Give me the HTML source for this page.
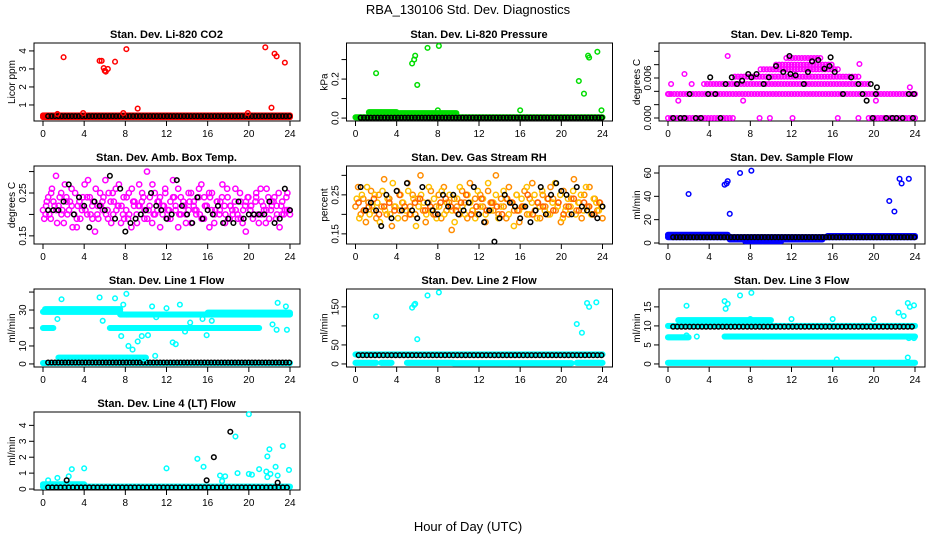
<!DOCTYPE html>
<html><head><meta charset="utf-8"><style>
html,body{margin:0;padding:0;background:#fff;}
svg{display:block;font-family:"Liberation Sans",sans-serif;}
</style></head><body>
<svg id="chart" width="936" height="540" viewBox="0 0 936 540" xmlns="http://www.w3.org/2000/svg">
<text x="468" y="14" text-anchor="middle" font-size="13">RBA_130106  Std. Dev. Diagnostics</text>
<text x="468" y="531" text-anchor="middle" font-size="13">Hour of Day (UTC)</text>
</svg>
<script>
const xTicks=[0,4,8,12,16,20,24];
const co2Levels=[[0,24,0.33],[0,24,0.42]];
const co2Black=[[0.5,24,0.38]];
const co2Out=[[2,3.65],[5.5,3.45],[5.7,3.45],[5.9,3.05],[6.0,2.9],[6.1,2.85],[6.3,3.0],[7,3.4],[8.1,4.1],[9.2,0.8],[21.6,4.2],[22.2,0.85],[22.5,3.85],[22.7,3.7],[23.5,3.35],[19.9,0.55],[1.4,0.5],[3.9,0.55],[7.8,0.55]];
const presLevels=[[0,10,0.004],[10,24,0.004],[1.3,4,0.03],[4.3,9.8,0.025]];
const presBlack=[[0.5,24,0.002]];
const presOut=[[2,0.23],[5.5,0.28],[5.7,0.3],[5.8,0.32],[6,0.17],[7,0.36],[8.1,0.37],[8,0.04],[16,0.04],[21.7,0.19],[22.2,0.125],[22.6,0.32],[22.7,0.31],[23.5,0.34],[23.9,0.04]];
const tempLevels=[[0,6.3,0],[19.5,24,0],[0,24,0.0036],[3.5,19.5,0.0051],[6.5,18.5,0.0062],[9,16.5,0.0073],[10.5,16,0.008],[11.5,15,0.009]];
const tempOut=[[0.1,0.0036],[0.3,0.0051],[1,0.0026],[1.6,0.0066],[2.3,0.0051],[5.8,0.0093],[7.3,0.0026],[18.6,0.0081],[20.2,0.0026],[23.5,0.0046],[8.9,0],[9.9,0],[12.1,0],[16.5,0],[18.5,0]];
const tempBlack=[[0.5,0],[1.2,0],[1.6,0],[2.7,0],[3.2,0],[5.1,0],[2.1,0.0036],[3.9,0.0036],[4.1,0.0061],[4.6,0.0036],[5.6,0.0051],[6.2,0.0061],[6.7,0.0051],[7.2,0.0056],[7.8,0.0066],[8.1,0.0061],[8.6,0.0066],[9.3,0.0051],[9.8,0.0061],[10.5,0.0078],[11.2,0.0069],[11.8,0.0093],[11.9,0.0066],[12.4,0.0064],[13.2,0.0051],[13.6,0.0069],[14,0.0085],[14.6,0.0087],[15.2,0.0074],[15.7,0.0078],[15.8,0.0091],[16.2,0.0069],[17,0.0036],[17.8,0.0061],[18.5,0.0051],[18.9,0.0036],[19.3,0.0026],[19.7,0.0051],[20.3,0.0046],[19.9,0],[21.2,0],[21.8,0],[22.2,0],[22.8,0],[23.8,0],[23.4,0.0036],[23.9,0.0036],[20.2,0.0036]];
const ambA=[0.21,0.2,0.24,0.19,0.23,0.29,0.22,0.25,0.18,0.24,0.21,0.26,0.2,0.17,0.23,0.22,0.27,0.2,0.24,0.19,0.16,0.22,0.25,0.21,0.28,0.19,0.23,0.2,0.26,0.22,0.18,0.24,0.21,0.25,0.17,0.22,0.2,0.27,0.23,0.19,0.3,0.22,0.18,0.25,0.21,0.24,0.2,0.26,0.19,0.23,0.28,0.21,0.17,0.24,0.22,0.2,0.25,0.18,0.23,0.21,0.26,0.19,0.24,0.22,0.17,0.25,0.2,0.23,0.21,0.27,0.18,0.24,0.22,0.2,0.26,0.19,0.23,0.21,0.16,0.24,0.22,0.2,0.25,0.18,0.23,0.21,0.26,0.19,0.22,0.24,0.2,0.17,0.23,0.21,0.25,0.2];
const ambB=[0.19,0.23,0.2,0.26,0.22,0.18,0.24,0.21,0.27,0.2,0.23,0.17,0.25,0.22,0.19,0.24,0.21,0.28,0.2,0.23,0.26,0.19,0.22,0.24,0.2,0.25,0.18,0.23,0.21,0.27,0.22,0.19,0.24,0.2,0.26,0.23,0.18,0.22,0.25,0.21,0.19,0.24,0.27,0.2,0.23,0.17,0.22,0.25,0.21,0.19,0.24,0.22,0.26,0.2,0.23,0.18,0.21,0.25,0.22,0.2,0.24,0.27,0.19,0.22,0.25,0.21,0.18,0.23,0.2,0.24,0.22,0.26,0.19,0.21,0.23,0.2,0.25,0.18,0.22,0.24,0.21,0.19,0.23,0.2,0.26,0.22,0.18,0.24,0.21,0.23,0.19,0.25,0.22,0.2,0.24,0.21];
const ambC=[0.22,0.25,0.21,0.2,0.23,0.22,0.19,0.21,0.24,0.22,0.2,0.23,0.21,0.25,0.22,0.2,0.19,0.23,0.22,0.24,0.21,0.2,0.23,0.22,0.21,0.24,0.2,0.22,0.23,0.21,0.2,0.22,0.24,0.21,0.23,0.2,0.22,0.21,0.19,0.23,0.22,0.24,0.2,0.21,0.23,0.22,0.2,0.21];
const ambBlack=[0.21,0.21,0.21,0.23,0.27,0.2,0.24,0.22,0.17,0.23,0.22,0.21,0.29,0.19,0.26,0.16,0.18,0.19,0.2,0.21,0.25,0.22,0.21,0.19,0.2,0.28,0.22,0.2,0.18,0.24,0.19,0.21,0.2,0.22,0.18,0.19,0.18,0.23,0.19,0.2,0.2,0.2,0.2,0.23,0.18,0.19,0.26,0.21];
const rhA=[0.22,0.27,0.2,0.24,0.18,0.23,0.26,0.21,0.19,0.25,0.22,0.29,0.2,0.24,0.17,0.22,0.26,0.21,0.23,0.19,0.28,0.22,0.25,0.2,0.24,0.3,0.21,0.18,0.23,0.26,0.2,0.22,0.25,0.19,0.27,0.21,0.23,0.16,0.24,0.22,0.2,0.26,0.23,0.19,0.28,0.21,0.24,0.2,0.25,0.22,0.18,0.26,0.23,0.21,0.3,0.2,0.24,0.22,0.19,0.27,0.23,0.21,0.25,0.18,0.22,0.26,0.2,0.24,0.28,0.21,0.23,0.19,0.25,0.22,0.2,0.27,0.24,0.21,0.23,0.18,0.26,0.22,0.2,0.24,0.29,0.21,0.23,0.19,0.25,0.22,0.27,0.2,0.24,0.21,0.23,0.19];
const rhB=[0.24,0.19,0.25,0.21,0.27,0.2,0.22,0.25,0.23,0.18,0.26,0.21,0.24,0.2,0.28,0.22,0.19,0.25,0.23,0.21,0.26,0.2,0.24,0.17,0.22,0.25,0.23,0.2,0.27,0.21,0.24,0.19,0.22,0.26,0.2,0.23,0.25,0.21,0.18,0.24,0.27,0.22,0.2,0.25,0.23,0.21,0.19,0.26,0.22,0.24,0.2,0.28,0.21,0.23,0.25,0.19,0.22,0.26,0.24,0.2,0.23,0.17,0.25,0.21,0.24,0.22,0.27,0.2,0.23,0.25,0.19,0.22,0.26,0.21,0.24,0.2,0.23,0.28,0.22,0.25,0.19,0.21,0.24,0.22,0.26,0.2,0.23,0.25,0.21,0.27,0.22,0.2,0.24,0.23,0.21,0.22];
const rhC=[0.23,0.21,0.22,0.24,0.2,0.22,0.23,0.21,0.25,0.22,0.2,0.23,0.24,0.21,0.22,0.2,0.23,0.24,0.22,0.21,0.23,0.25,0.2,0.22,0.24,0.21,0.23,0.22,0.2,0.24,0.23,0.21,0.22,0.25,0.2,0.23,0.22,0.24,0.21,0.23,0.2,0.22,0.24,0.21,0.23,0.22,0.2,0.23];
const rhBlack=[0.27,0.21,0.23,0.21,0.17,0.25,0.19,0.26,0.21,0.28,0.21,0.19,0.27,0.23,0.21,0.2,0.25,0.22,0.25,0.2,0.21,0.23,0.27,0.2,0.18,0.21,0.13,0.19,0.25,0.23,0.22,0.19,0.22,0.18,0.21,0.27,0.2,0.25,0.28,0.26,0.25,0.2,0.27,0.22,0.21,0.2,0.19,0.22];
const flowLevels=[[0,5.8,7],[0,24,5],[6,15,3],[7.5,11,1.5],[15.5,24,6]];
const flowBlack=[[0.5,24,5]];
const flowOut=[[2,42],[5.5,50],[5.7,51],[5.8,53],[6,25],[7,60],[8.1,62],[21.5,36],[22,27],[22.5,55],[22.7,51],[23.4,55]];
const l1Levels=[[0,7.5,29],[0.2,7.5,30.5],[7.5,24,27.5],[16,24,28.5],[0,1,20],[6.5,21,20],[1.5,10,3.5],[0,24,0.5]];
const l1Black=[[0.5,24,0.8]];
const l1Out=[[1.8,36],[5.5,37],[7,36.5],[8.1,39],[7.8,33],[1.4,25],[5.8,24],[7.6,15.5],[8.3,10],[8.7,8],[9.2,12.5],[9.6,15.5],[10.2,16],[10.6,32],[11,26],[12,31],[12.6,12],[12.9,11],[13.3,33],[13.8,18],[14.3,23],[15.5,25],[15.9,16],[16.4,24],[22.3,22],[22.8,34],[23.6,32],[23.7,19],[22.7,19],[10.9,4.5],[9.8,3]];
const l2Levels=[[0,24,25],[0,2,3],[2.5,3.5,3],[5,9.5,3],[9.5,21,2],[21.5,24,3]];
const l2Black=[[0.3,24,23]];
const l2Out=[[2,125],[5.5,148],[5.7,155],[5.8,158],[6,65],[7,180],[8.1,188],[21.5,105],[22,82],[22.5,160],[22.7,150],[23.4,162]];
const l3Levels=[[0,24,0.3],[0,2,7],[5.5,24,7.2],[1,10,11.5],[0,24,10]];
const l3Black=[[0.5,24,9.8]];
const l3Out=[[1.8,15.3],[5.5,16.5],[5.6,14.5],[5.8,15.8],[7,18],[8.1,18.7],[8,11.8],[12,11.8],[16,11.8],[20,11.8],[22.4,13.5],[22.9,12.6],[23.3,16],[23.5,15],[23.9,15.4],[23.4,6.8],[23.9,6.8],[1.8,7.5],[2.8,7.2],[16.4,1.2],[23.3,1.7]];
const l4Levels=[[0,24,0.15],[0,4,0.3]];
const l4Black=[[0.5,24,0.1]];
const l4Out=[[0.5,0.55],[1.4,0.7],[2.5,0.8],[2.8,1.25],[4,1.3],[12,1.3],[15,1.9],[15.6,1.4],[17.2,0.85],[17.4,0.5],[17.7,0.8],[18.7,3.3],[18.9,1.0],[20,4.7],[20,0.95],[20.3,0.9],[21,1.25],[21.7,1.1],[21.8,2.05],[21.8,0.75],[22,2.5],[22.1,0.95],[22.6,1.4],[22.8,0.85],[23.3,2.7],[23.9,1.2]];
const l4BlackOut=[[2.3,0.55],[15.9,0.55],[16.6,2.0],[18.2,3.6],[22.8,0.4]];

const NS="http://www.w3.org/2000/svg";
const svg=document.getElementById('chart');
function mk(tag,attrs,parent){const e=document.createElementNS(NS,tag);for(const k in attrs)e.setAttribute(k,attrs[k]);(parent||svg).appendChild(e);return e;}

function panel(col,row,title,ylab,ymin,ymax,yticks,ylabels){
  const x0=43+312.5*col, w=247, top=43+123*row, h=78;
  const g=mk('g',{});
  
  
  const sx=v=>x0+v/24*w, sy=v=>top+h-(v-ymin)/(ymax-ymin)*h;
  const box=mk('rect',{x:x0-9,y:top,width:w+19,height:h,fill:'none',stroke:'#000','stroke-width':1},g);
  
  
  const t=mk('text',{x:x0+w/2,y:top-5,'text-anchor':'middle','font-size':11,'font-weight':'bold'},g);
  t.textContent=title;
  
  
  const yl=mk('text',{transform:`translate(${x0-28},${top+h/2}) rotate(-90)`,'text-anchor':'middle','font-size':10},g);
  yl.textContent=ylab;
  
  
  mk('line',{x1:sx(0),x2:sx(24),y1:top+h,y2:top+h,stroke:'#000'},g);
  xTicks.forEach(v=>{
    mk('line',{x1:sx(v),x2:sx(v),y1:top+h,y2:top+h+5,stroke:'#000'},g);
    const tx=mk('text',{x:sx(v),y:top+h+16,'text-anchor':'middle','font-size':10},g);
    tx.textContent=v;
    
    
  });
  mk('line',{x1:x0-9,x2:x0-9,y1:sy(yticks[0]),y2:sy(yticks[yticks.length-1]),stroke:'#000'},g);
  yticks.forEach((v,i)=>{
    mk('line',{x1:x0-14,x2:x0-9,y1:sy(v),y2:sy(v),stroke:'#000'},g);
    if(ylabels[i]!==''){
      const ty=mk('text',{transform:`translate(${x0-17},${sy(v)}) rotate(-90)`,'text-anchor':'middle','font-size':10},g);
      ty.textContent=ylabels[i];
      
      
    }
  });
  const dot=(h_,v,color,r)=>{
    const c=mk('circle',{cx:sx(h_),cy:sy(v),r:r||2.3,fill:'none',stroke:color,'stroke-width':1.5},g);
    
    
  };
  return {
    levels:(arr,color,step)=>arr.forEach(([a,b,v])=>{for(let hh=a;hh<=b+1e-9;hh+=(step||0.1))dot(hh,v,color);}),
    pts:(arr,color)=>arr.forEach(([hh,v])=>dot(hh,v,color)),
    series:(arr,color,t0,t1,r)=>arr.forEach((v,i)=>dot(t0+(t1-t0)*i/(arr.length-1),v,color,r))
  };
}
const RED='#ff0000',GRN='#00dd00',MAG='#ff00ff',BLU='#0000ff',CY='#00ffff',BLK='#000';
let p;
p=panel(0,0,'Stan. Dev. Li-820 CO2','Licor ppm',0.11,4.44,[1,2,3,4],['1','2','3','4']);
p.levels(co2Levels,RED);p.levels(co2Black,BLK,0.33);p.pts(co2Out,RED);
p=panel(1,0,'Stan. Dev. Li-820 Pressure','kPa',-0.015,0.385,[0,0.1,0.2,0.3],['0.0','','0.2','']);
p.levels(presLevels,GRN);p.levels(presBlack,BLK,0.33);p.pts(presOut,GRN);
p=panel(2,0,'Stan. Dev. Li-820 Temp.','degrees C',-0.00045,0.01125,[0,0.002,0.004,0.006,0.008,0.010],['0.000','','','0.006','','']);
p.levels(tempLevels,MAG,0.3);p.pts(tempOut,MAG);p.pts(tempBlack,BLK);
p=panel(0,1,'Stan. Dev. Amb. Box Temp.','degrees C',0.131,0.313,[0.15,0.2,0.25,0.3],['0.15','','0.25','']);
p.series(ambA,MAG,0,24,2.6);p.series(ambB,MAG,0.12,23.9,2.6);p.series(ambC,MAG,0.3,23.7,2.6);p.series(ambBlack,BLK,0.5,24);
p=panel(1,1,'Stan. Dev. Gas Stream RH','percent',0.124,0.324,[0.15,0.2,0.25,0.3],['0.15','','0.25','']);
p.series(rhA,'#ff8c00',0,24,2.6);p.series(rhB,'#ffc000',0.12,23.9,2.6);p.series(rhC,'#ff6000',0.3,23.7,2.6);p.series(rhBlack,BLK,0.5,24);
p=panel(2,1,'Stan. Dev. Sample Flow','ml/min',-0.86,66,[0,20,40,60],['0','20','40','60']);
p.levels(flowLevels,BLU);p.levels(flowBlack,BLK,0.33);p.pts(flowOut,BLU);
p=panel(0,2,'Stan. Dev. Line 1 Flow','ml/min',-1.7,41.7,[0,10,20,30,40],['0','10','','30','']);
p.levels(l1Levels,CY);p.levels(l1Black,BLK,0.33);p.pts(l1Out,CY);
p=panel(1,2,'Stan. Dev. Line 2 Flow','ml/min',-8,197,[0,50,100,150],['0','50','','150']);
p.levels(l2Levels,CY);p.levels(l2Black,BLK,0.4);p.pts(l2Out,CY);
p=panel(2,2,'Stan. Dev. Line 3 Flow','ml/min',-0.8,19.7,[0,5,10,15],['0','5','10','15']);
p.levels(l3Levels,CY);p.levels(l3Black,BLK,0.4);p.pts(l3Out,CY);
p=panel(0,3,'Stan. Dev. Line 4 (LT) Flow','ml/min',-0.06,4.84,[0,1,2,3,4],['0','1','2','3','4']);
p.levels(l4Levels,CY);p.levels(l4Black,BLK,0.4);p.pts(l4Out,CY);p.pts(l4BlackOut,BLK);
</script>
</body></html>
